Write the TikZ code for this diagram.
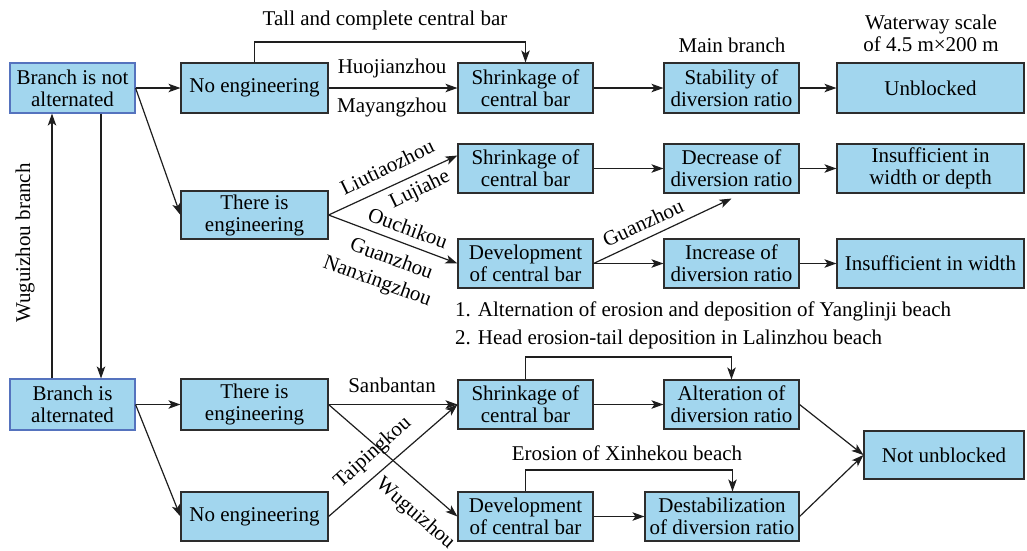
\documentclass[tikz,border=0pt]{standalone}
\usepackage{fontspec}
\setmainfont{Liberation Serif}
\usetikzlibrary{arrows.meta,calc}
\definecolor{boxfill}{RGB}{162,214,238}
\definecolor{boxline}{RGB}{45,45,45}
\definecolor{blueline}{RGB}{85,115,190}
\definecolor{lncol}{RGB}{30,30,30}
\begin{document}
\begin{tikzpicture}[x=1pt,y=-1pt, font=\fontsize{21}{22}\selectfont,
 box/.style={draw=boxline, fill=boxfill, line width=1.1pt, inner sep=0pt, align=center, rectangle},
 bluebox/.style={box, draw=blueline},
 arr/.style={draw=lncol, line width=1.2pt, -{Stealth[length=12pt,width=8.5pt,inset=3pt]}},
 lbl/.style={inner sep=0pt}]
\useasboundingbox (0,0) rectangle (1027,550);
% boxes
\node[bluebox, minimum width=125pt, minimum height=50pt] (bna) at (72.5,88) {Branch is not\\alternated};
\node[box, minimum width=147pt, minimum height=50pt] (ne1) at (254.5,88) {No engineering};
\node[box, minimum width=135pt, minimum height=50pt] (s1) at (525.5,88) {Shrinkage of\\central bar};
\node[box, minimum width=135pt, minimum height=50pt] (st) at (731.5,88) {Stability of\\diversion ratio};
\node[box, minimum width=187pt, minimum height=50pt] (ub) at (930.5,88) {Unblocked};
\node[box, minimum width=147pt, minimum height=48pt] (te1) at (254.5,215) {There is\\engineering};
\node[box, minimum width=135pt, minimum height=49pt] (s2) at (525.5,168.5) {Shrinkage of\\central bar};
\node[box, minimum width=135pt, minimum height=49pt] (dec) at (731.5,168.5) {Decrease of\\diversion ratio};
\node[box, minimum width=187pt, minimum height=49pt] (ins1) at (930.5,168.5) {Insufficient in\\width or depth};
\node[box, minimum width=135pt, minimum height=49pt] (dv3) at (525.5,263.5) {Development\\of central bar};
\node[box, minimum width=135pt, minimum height=49pt] (inc) at (731.5,263.5) {Increase of\\diversion ratio};
\node[box, minimum width=187pt, minimum height=49pt] (ins2) at (930.5,263.5) {Insufficient in width};
\node[bluebox, minimum width=125pt, minimum height=51pt] (bat) at (72.5,404.5) {Branch is\\alternated};
\node[box, minimum width=147pt, minimum height=51pt] (te2) at (254.5,404.5) {There is\\engineering};
\node[box, minimum width=147pt, minimum height=49pt] (ne2) at (254.5,516.5) {No engineering};
\node[box, minimum width=135pt, minimum height=49pt] (s4) at (525.5,404.5) {Shrinkage of\\central bar};
\node[box, minimum width=135pt, minimum height=49pt] (alt) at (731.5,404.5) {Alteration of\\diversion ratio};
\node[box, minimum width=135pt, minimum height=49pt] (dv4) at (525.5,516.5) {Development\\of central bar};
\node[box, minimum width=154pt, minimum height=49pt] (des) at (722,516.5) {Destabilization\\of diversion ratio};
\node[box, minimum width=160pt, minimum height=48pt] (nu) at (944,455) {Not unblocked};
% connectors
\draw[arr] (bna.east) -- (ne1.west);
\draw[arr] (bna.east) -- (te1.west);
\draw[arr] (ne1.east) -- (s1.west);
\draw[arr] (s1.east) -- (st.west);
\draw[arr] (st.east) -- (ub.west);
\coordinate (t1) at (525.5,42);
\draw[arr] (ne1.north) |- (t1) -- (s1.north);
\draw[arr] (te1.east) -- ([yshift=13pt]s2.west);
\draw[arr] (te1.east) -- (dv3.west);
\draw[arr] (s2.east) -- (dec.west);
\draw[arr] (dec.east) -- (ins1.west);
\draw[arr] (dv3.east) -- ([yshift=-5pt]dec.south);
\draw[arr] (dv3.east) -- (inc.west);
\draw[arr] (inc.east) -- (ins2.west);
\draw[arr] ([xshift=-20.5pt]bat.north) -- ([xshift=-20.5pt]bna.south);
\draw[arr] ([xshift=28.5pt]bna.south) -- ([xshift=28.5pt]bat.north);
\draw[arr] (bat.east) -- (te2.west);
\draw[arr] (bat.east) -- (ne2.west);
\draw[arr] (te2.east) -- (s4.west);
\draw[arr] (te2.east) -- (dv4.west);
\draw[arr] (ne2.east) -- (s4.west);
\draw[arr] (s4.east) -- (alt.west);
\coordinate (t2) at (731.5,357);
\draw[arr] (s4.north) |- (t2) -- (alt.north);
\coordinate (t3) at (732.5,470);
\draw[arr] (dv4.north) |- (t3) -- (t3 |- des.north);
\draw[arr] (dv4.east) -- (des.west);
\draw[arr] (alt.east) -- (nu.west);
\draw[arr] (des.east) -- (nu.west);
% labels
\node[lbl] (l1) at (385,20) {Tall and complete central bar};
\node[lbl] (l2) at (732,45) {Main branch};
\node[lbl, align=center] (l3) at (931,33) {Waterway scale\\of 4.5 m×200 m};
\node[lbl] (l4) at (392,68) {Huojianzhou};
\node[lbl] (l5) at (392,107) {Mayangzhou};
\node[lbl, rotate=26] (l6) at (387,167) {Liutiaozhou};
\node[lbl, rotate=26] (l7) at (420,190) {Lujiahe};
\node[lbl, rotate=-20] (l8) at (408,228) {Ouchikou};
\node[lbl, rotate=-20] (l9) at (392,258) {Guanzhou};
\node[lbl, rotate=-20] (l10) at (377,282) {Nanxingzhou};
\node[lbl, rotate=25] (l11) at (643,223) {Guanzhou};
\node[lbl, anchor=west] (l12) at (455,311) {1. Alternation of erosion and deposition of Yanglinji beach};
\node[lbl, anchor=west] (l13) at (455,339) {2. Head erosion-tail deposition in Lalinzhou beach};
\node[lbl] (l14) at (392,385) {Sanbantan};
\node[lbl, rotate=42] (l15) at (373,453) {Taipingkou};
\node[lbl, rotate=-41] (l16) at (415,514) {Wuguizhou};
\node[lbl] (l17) at (627,453) {Erosion of Xinhekou beach};
\node[lbl, rotate=90] (l18) at (25,243) {Wuguizhou branch};
\end{tikzpicture}
\end{document}
